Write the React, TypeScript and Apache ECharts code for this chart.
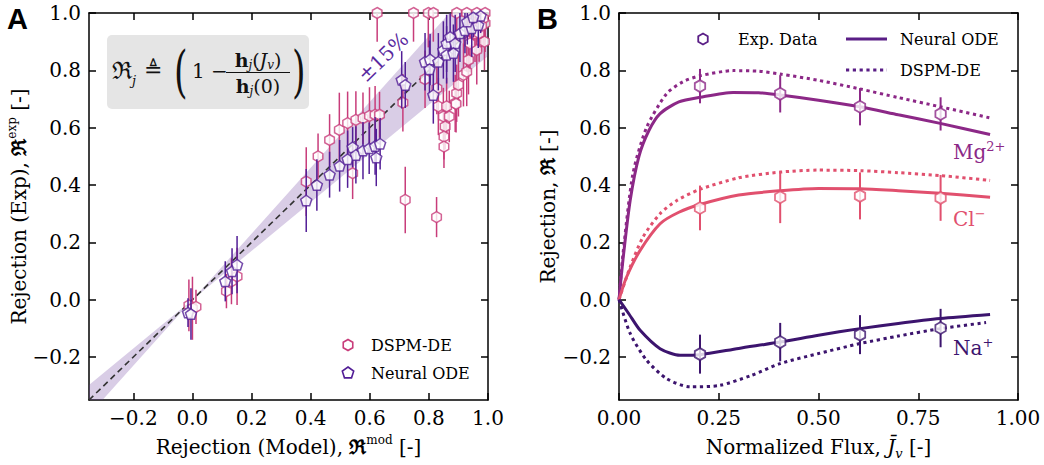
import React, { useEffect, useRef } from 'react';
import * as echarts from 'echarts';

// ---------------- Panel A data: [model, experiment, error] ----------------
const dspmPoints: number[][] = [
  [-0.012, -0.02, 0.09], [0.0, -0.03, 0.11], [0.012, -0.025, 0.06],
  [0.115, 0.03, 0.06], [0.132, 0.064, 0.08], [0.151, 0.081, 0.1],
  [0.385, 0.412, 0.12], [0.425, 0.5, 0.08], [0.464, 0.557, 0.09], [0.497, 0.592, 0.13],
  [0.525, 0.616, 0.11], [0.553, 0.627, 0.1], [0.577, 0.633, 0.09], [0.599, 0.641, 0.1],
  [0.618, 0.645, 0.1], [0.633, 0.645, 0.08], [0.542, 0.441, 0.09],
  [0.712, 0.687, 0.1], [0.72, 0.348, 0.116], [0.826, 0.288, 0.07],
  [0.625, 1.0, 0.1], [0.748, 1.0, 0.1], [0.798, 1.0, 0.12], [0.815, 1.0, 0.1],
  [0.894, 1.0, 0.1], [0.928, 1.0, 0.1], [0.962, 1.0, 0.1], [0.99, 1.0, 0.1],
  [0.99, 0.964, 0.1], [0.988, 0.9, 0.1], [0.962, 0.871, 0.12], [0.934, 0.9, 0.12],
  [0.787, 0.769, 0.1], [0.827, 0.737, 0.09], [0.832, 0.674, 0.1], [0.849, 0.639, 0.1],
  [0.855, 0.604, 0.08], [0.851, 0.569, 0.08], [0.851, 0.534, 0.075],
  [0.889, 0.685, 0.1], [0.894, 0.72, 0.1], [0.9, 0.749, 0.11], [0.917, 0.784, 0.11],
  [0.928, 0.795, 0.12], [0.934, 0.836, 0.12], [0.939, 0.894, 0.1], [0.956, 0.929, 0.1],
  [0.984, 0.981, 0.1], [0.86, 0.674, 0.1], [0.869, 0.639, 0.09], [0.892, 0.683, 0.1],
  [0.97, 0.93, 0.1], [0.978, 0.955, 0.09],
];
const nodePoints: number[][] = [
  [-0.015, -0.045, 0.05], [-0.005, -0.05, 0.09],
  [0.111, 0.064, 0.07], [0.134, 0.099, 0.08], [0.151, 0.122, 0.1],
  [0.385, 0.346, 0.11], [0.421, 0.4, 0.09], [0.464, 0.436, 0.08], [0.498, 0.467, 0.09],
  [0.525, 0.49, 0.1], [0.542, 0.532, 0.07], [0.553, 0.505, 0.1], [0.577, 0.52, 0.1],
  [0.598, 0.528, 0.09], [0.618, 0.536, 0.1], [0.635, 0.544, 0.09], [0.622, 0.496, 0.1],
  [0.708, 0.767, 0.1], [0.72, 0.749, 0.08], [0.787, 0.83, 0.1], [0.804, 0.838, 0.09],
  [0.802, 0.804, 0.1], [0.815, 0.714, 0.1], [0.832, 0.83, 0.1], [0.849, 0.871, 0.1],
  [0.86, 0.894, 0.1], [0.872, 0.917, 0.08], [0.889, 0.894, 0.1], [0.905, 0.929, 0.1],
  [0.922, 0.94, 0.08], [0.945, 0.947, 0.1], [0.967, 0.958, 0.08], [0.86, 0.854, 0.1],
  [0.883, 0.86, 0.1], [0.93, 0.97, 0.08], [0.975, 0.99, 0.06], [0.95, 0.985, 0.07],
];
const parityRange = [-0.35, 1.0];
const bandTolerance = 0.15;
const ticksA = [-0.2, 0, 0.2, 0.4, 0.6, 0.8, 1.0];

// ---------------- Panel B data ----------------
const fluxExp = [0.203, 0.404, 0.604, 0.806];
const mgExp = [0.745, 0.718, 0.673, 0.648];
const mgExpErr = [0.06, 0.065, 0.065, 0.058];
const clExp = [0.32, 0.357, 0.362, 0.355];
const clExpErr = [0.078, 0.09, 0.082, 0.08];
const naExp = [-0.19, -0.148, -0.122, -0.099];
const naExpErr = [0.068, 0.067, 0.068, 0.067];

const mgNode = [[0, 0], [0.01, 0.14], [0.028, 0.346], [0.05, 0.5], [0.075, 0.59], [0.103, 0.649], [0.15, 0.69], [0.203, 0.706], [0.286, 0.723], [0.35, 0.722], [0.404, 0.714], [0.5, 0.696], [0.604, 0.673], [0.7, 0.645], [0.805, 0.615], [0.93, 0.576]];
const mgDspm = [[0, 0], [0.01, 0.16], [0.035, 0.44], [0.069, 0.6], [0.119, 0.718], [0.16, 0.76], [0.203, 0.781], [0.286, 0.799], [0.35, 0.797], [0.404, 0.787], [0.5, 0.765], [0.604, 0.735], [0.7, 0.705], [0.805, 0.673], [0.93, 0.634]];
const clNode = [[0, 0], [0.019, 0.079], [0.053, 0.172], [0.103, 0.265], [0.15, 0.305], [0.203, 0.332], [0.3, 0.365], [0.404, 0.38], [0.5, 0.388], [0.604, 0.387], [0.7, 0.38], [0.805, 0.371], [0.93, 0.357]];
const clDspm = [[0, 0], [0.028, 0.114], [0.06, 0.218], [0.103, 0.3], [0.145, 0.346], [0.203, 0.385], [0.3, 0.425], [0.404, 0.445], [0.5, 0.452], [0.604, 0.45], [0.7, 0.443], [0.805, 0.433], [0.93, 0.416]];
const naNode = [[0, 0], [0.025, -0.05], [0.053, -0.107], [0.103, -0.171], [0.153, -0.194], [0.203, -0.192], [0.3, -0.17], [0.404, -0.148], [0.5, -0.124], [0.604, -0.101], [0.7, -0.083], [0.805, -0.066], [0.93, -0.052]];
const naDspm = [[0, 0], [0.028, -0.118], [0.069, -0.211], [0.119, -0.275], [0.178, -0.304], [0.253, -0.299], [0.33, -0.265], [0.404, -0.223], [0.5, -0.188], [0.604, -0.153], [0.7, -0.127], [0.805, -0.101], [0.92, -0.08]];
const ticksBx = [0, 0.25, 0.5, 0.75, 1.0];
const ticksBy = [-0.2, 0, 0.2, 0.4, 0.6, 0.8, 1.0];

// ---------------- styling ----------------
const FONT = "'DejaVu Serif', serif";
const PINK = '#c83c7a';
const PURPLE = '#521e96';
const MG = '#8c2887';
const CL = '#e1506e';
const NA = '#3c146e';
const LEG = '#5a1e86';
const HEX = 'path://M0,-1L0.866,-0.5L0.866,0.5L0,1L-0.866,0.5L-0.866,-0.5Z';
const PENT = 'path://M0,-1L0.951,-0.309L0.588,0.809L-0.588,0.809L-0.951,-0.309Z';

const fmt1 = (v: number) => (v < -1e-9 ? '\u2212' : '') + Math.abs(v).toFixed(1);
const fmt2 = (v: number) => Math.abs(v).toFixed(2);

const nameRich = {
  t: { fontSize: 20, fontFamily: FONT, color: '#000', lineHeight: 26 },
  r: { fontSize: 20, fontFamily: FONT, color: '#000', fontWeight: 'bold', lineHeight: 26 },
  sup: { fontSize: 12, fontFamily: FONT, color: '#000', verticalAlign: 'top', lineHeight: 14 },
  it: { fontSize: 20, fontFamily: FONT, color: '#000', fontStyle: 'italic', lineHeight: 26 },
  sub: { fontSize: 13, fontFamily: FONT, color: '#000', fontStyle: 'italic', verticalAlign: 'bottom', lineHeight: 16 },
};

function mkAxis(kind: 'x' | 'y', grid: number, min: number, max: number, ticks: number[], labels: boolean, fmt: (v: number) => string, position: string, name?: string, nameGap?: number): any {
  return {
    type: 'value', gridIndex: grid, min, max, position,
    axisLine: { show: true, onZero: false, lineStyle: { color: '#000', width: 1.5 } },
    axisTick: { show: true, inside: true, length: 7, customValues: ticks, lineStyle: { color: '#000', width: 1.5 } },
    axisLabel: { show: labels, customValues: ticks, formatter: fmt, color: '#000', fontFamily: FONT, fontSize: 20, margin: 8 },
    splitLine: { show: false },
    name: name || '',
    nameLocation: 'middle',
    nameGap: nameGap || 0,
    nameTextStyle: { fontFamily: FONT, fontSize: 20, color: '#000', rich: nameRich },
  };
}

function errorSeries(data: number[][], color: string, xi: number, yi: number, width: number, z: number): any {
  return {
    type: 'custom', xAxisIndex: xi, yAxisIndex: yi, clip: true, z, silent: true,
    data,
    encode: { x: 0, y: 1 },
    renderItem: (params: any, api: any) => {
      const x = api.value(0), y = api.value(1), e = api.value(2);
      const p1 = api.coord([x, y + e]);
      const p2 = api.coord([x, y - e]);
      return { type: 'line', shape: { x1: p1[0], y1: p1[1], x2: p2[0], y2: p2[1] }, style: { stroke: color, lineWidth: width } };
    },
  };
}

function polyPoints(cx: number, cy: number, r: number, n: number): number[][] {
  const pts: number[][] = [];
  for (let i = 0; i < n; i++) {
    const a = -Math.PI / 2 + (i * 2 * Math.PI) / n;
    pts.push([cx + r * Math.cos(a), cy + r * Math.sin(a)]);
  }
  return pts;
}

function buildOption(): any {
  const lo = parityRange[0], hi = parityRange[1];
  const up = 1 + bandTolerance, dn = 1 - bandTolerance;
  const bandVerts = [
    [lo, lo * dn], [0, 0], [hi / up, hi], [hi, hi], [hi, hi * dn], [0, 0], [lo / up, lo], [lo, lo],
  ];

  const expTriples = (ys: number[], es: number[]) => fluxExp.map((x, i) => [x, ys[i], es[i]]);

  const lineB = (data: number[][], color: string, dotted: boolean, name: string) => ({
    type: 'line', name, xAxisIndex: 2, yAxisIndex: 2, data, smooth: 0.25, symbol: 'none', z: 3, silent: true,
    lineStyle: { color, width: 3, type: dotted ? [3.2, 3.6] : 'solid', cap: 'butt' },
  });
  const scatterB = (ys: number[], color: string, name: string) => ({
    type: 'scatter', name, xAxisIndex: 2, yAxisIndex: 2, data: fluxExp.map((x, i) => [x, ys[i]]),
    symbol: HEX, symbolSize: 12, symbolKeepAspect: true, z: 6, silent: true,
    itemStyle: { color: '#fff', borderColor: color, borderWidth: 1.8 },
  });

  const graphic: any[] = [
    { type: 'text', x: 7, y: 4, style: { text: 'A', font: "bold 29px 'Liberation Sans', Arial, sans-serif", fill: '#000' } },
    { type: 'text', x: 537, y: 4, style: { text: 'B', font: "bold 29px 'Liberation Sans', Arial, sans-serif", fill: '#000' } },
    // formula box
    { type: 'rect', shape: { x: 107, y: 35, width: 202, height: 74, r: 5 }, style: { fill: '#e5e5e5' }, z: 10 },
    { type: 'text', x: 112, y: 71, z: 11, style: { text: '\u211C', font: `24px ${FONT}`, fill: '#111', verticalAlign: 'middle' } },
    { type: 'text', x: 132, y: 80, z: 11, style: { text: 'j', font: `italic 13px ${FONT}`, fill: '#111', verticalAlign: 'middle' } },
    { type: 'text', x: 144, y: 69, z: 11, style: { text: '\u225C', font: `22px ${FONT}`, fill: '#111', verticalAlign: 'middle' } },
    { type: 'text', x: 174, y: 72, z: 11, scaleX: 0.62, style: { text: '(', font: `56px ${FONT}`, fill: '#111', verticalAlign: 'middle' } },
    { type: 'text', x: 192, y: 71, z: 11, style: { text: '1 \u2212', font: `20px ${FONT}`, fill: '#111', verticalAlign: 'middle' } },
    {
      type: 'text', x: 258, y: 60, z: 11,
      style: {
        text: '{b|h}{s|j}{n|(}{i|J}{s|v}{n|)}', align: 'center', verticalAlign: 'middle', fill: '#111',
        rich: {
          b: { font: `bold 19px ${FONT}`, lineHeight: 22, fill: '#111' },
          n: { font: `19px ${FONT}`, lineHeight: 22, fill: '#111' },
          i: { font: `italic 19px ${FONT}`, lineHeight: 22, fill: '#111' },
          s: { font: `italic 12px ${FONT}`, lineHeight: 13, verticalAlign: 'bottom', fill: '#111' },
        },
      },
    },
    { type: 'line', z: 11, shape: { x1: 226, y1: 72.5, x2: 290, y2: 72.5 }, style: { stroke: '#111', lineWidth: 1.2 } },
    {
      type: 'text', x: 258, y: 86, z: 11,
      style: {
        text: '{b|h}{s|j}{n|(0)}', align: 'center', verticalAlign: 'middle', fill: '#111',
        rich: {
          b: { font: `bold 19px ${FONT}`, lineHeight: 22, fill: '#111' },
          n: { font: `19px ${FONT}`, lineHeight: 22, fill: '#111' },
          s: { font: `italic 12px ${FONT}`, lineHeight: 13, verticalAlign: 'bottom', fill: '#111' },
        },
      },
    },
    { type: 'text', x: 292, y: 72, z: 11, scaleX: 0.62, style: { text: ')', font: `56px ${FONT}`, fill: '#111', verticalAlign: 'middle' } },
    // ±15%
    { type: 'text', x: 383, y: 57, rotation: (44 * Math.PI) / 180, z: 11, style: { text: '\u00B115%', font: `20px ${FONT}`, fill: '#5a2aa0', align: 'center', verticalAlign: 'middle' } },
    // legend A
    { type: 'polygon', z: 11, shape: { points: polyPoints(348, 345, 5.5, 6) }, style: { fill: '#fff', stroke: PINK, lineWidth: 1.6 } },
    { type: 'text', x: 371, y: 345, z: 11, style: { text: 'DSPM-DE', font: `16px ${FONT}`, fill: '#000', verticalAlign: 'middle' } },
    { type: 'polygon', z: 11, shape: { points: polyPoints(348, 373, 6, 5) }, style: { fill: '#fff', stroke: PURPLE, lineWidth: 1.6 } },
    { type: 'text', x: 371, y: 373, z: 11, style: { text: 'Neural ODE', font: `16px ${FONT}`, fill: '#000', verticalAlign: 'middle' } },
    // legend B
    { type: 'polygon', z: 11, shape: { points: polyPoints(703, 39, 5.5, 6) }, style: { fill: '#fff', stroke: LEG, lineWidth: 1.8 } },
    { type: 'text', x: 738, y: 39, z: 11, style: { text: 'Exp. Data', font: `16px ${FONT}`, fill: '#000', verticalAlign: 'middle' } },
    { type: 'line', z: 11, shape: { x1: 846, y1: 39, x2: 887, y2: 39 }, style: { stroke: LEG, lineWidth: 3 } },
    { type: 'text', x: 900, y: 39, z: 11, style: { text: 'Neural ODE', font: `16px ${FONT}`, fill: '#000', verticalAlign: 'middle' } },
    { type: 'line', z: 11, shape: { x1: 846, y1: 70, x2: 887, y2: 70 }, style: { stroke: LEG, lineWidth: 3, lineDash: [3.2, 3.6] } },
    { type: 'text', x: 900, y: 70, z: 11, style: { text: 'DSPM-DE', font: `16px ${FONT}`, fill: '#000', verticalAlign: 'middle' } },
    // ion labels
    {
      type: 'text', x: 953, y: 152, z: 11,
      style: { text: '{m|Mg}{s|2+}', verticalAlign: 'middle', rich: { m: { font: `20px ${FONT}`, fill: MG, lineHeight: 24 }, s: { font: `13px ${FONT}`, fill: MG, verticalAlign: 'top', lineHeight: 14 } } },
    },
    {
      type: 'text', x: 953, y: 219, z: 11,
      style: { text: '{m|Cl}{s|\u2212}', verticalAlign: 'middle', rich: { m: { font: `20px ${FONT}`, fill: CL, lineHeight: 24 }, s: { font: `13px ${FONT}`, fill: CL, verticalAlign: 'top', lineHeight: 14 } } },
    },
    {
      type: 'text', x: 953, y: 348, z: 11,
      style: { text: '{m|Na}{s|+}', verticalAlign: 'middle', rich: { m: { font: `20px ${FONT}`, fill: NA, lineHeight: 24 }, s: { font: `13px ${FONT}`, fill: NA, verticalAlign: 'top', lineHeight: 14 } } },
    },
  ];

  return {
    animation: false,
    backgroundColor: '#fff',
    grid: [
      { left: 89, top: 13, width: 399, height: 387 },
      { left: 619, top: 13, width: 399, height: 387 },
    ],
    xAxis: [
      mkAxis('x', 0, -0.35, 1.0, ticksA, true, fmt1, 'bottom', '{t|Rejection (Model), }{r|\u211C}{sup|mod}{t| [-]}', 34),
      mkAxis('x', 0, -0.35, 1.0, ticksA, false, fmt1, 'top'),
      mkAxis('x', 1, 0, 1.0, ticksBx, true, fmt2, 'bottom', '{t|Normalized Flux, }{it|J\u0304}{sub|v}{t| [-]}', 34),
      mkAxis('x', 1, 0, 1.0, ticksBx, false, fmt2, 'top'),
    ],
    yAxis: [
      mkAxis('y', 0, -0.35, 1.0, ticksA, true, fmt1, 'left', '{t|Rejection (Exp), }{r|\u211C}{sup|exp}{t| [-]}', 56),
      mkAxis('y', 0, -0.35, 1.0, ticksA, false, fmt1, 'right'),
      mkAxis('y', 1, -0.35, 1.0, ticksBy, true, fmt1, 'left', '{t|Rejection, }{r|\u211C}{t| [-]}', 58),
      mkAxis('y', 1, -0.35, 1.0, ticksBy, false, fmt1, 'right'),
    ],
    graphic,
    series: [
      {
        type: 'custom', name: 'band', xAxisIndex: 0, yAxisIndex: 0, clip: true, z: 1, silent: true,
        data: [[0, 0]],
        renderItem: (params: any, api: any) => ({
          type: 'polygon',
          shape: { points: bandVerts.map((v) => api.coord(v)) },
          style: { fill: 'rgba(110,60,160,0.26)' },
        }),
      },
      {
        type: 'line', name: 'parity', xAxisIndex: 0, yAxisIndex: 0, z: 2, silent: true, symbol: 'none',
        data: [[lo, lo], [hi, hi]],
        lineStyle: { color: '#333', width: 1.6, type: [6, 4] },
      },
      errorSeries(dspmPoints, PINK, 0, 0, 1.5, 3),
      {
        type: 'scatter', name: 'DSPM-DE', xAxisIndex: 0, yAxisIndex: 0, z: 4, silent: true,
        data: dspmPoints.map((p) => [p[0], p[1]]),
        symbol: HEX, symbolSize: 11, symbolKeepAspect: true,
        itemStyle: { color: '#fff', borderColor: PINK, borderWidth: 1.5 },
      },
      errorSeries(nodePoints, PURPLE, 0, 0, 1.5, 5),
      {
        type: 'scatter', name: 'Neural ODE', xAxisIndex: 0, yAxisIndex: 0, z: 6, silent: true,
        data: nodePoints.map((p) => [p[0], p[1]]),
        symbol: PENT, symbolSize: 11, symbolKeepAspect: true,
        itemStyle: { color: '#fff', borderColor: PURPLE, borderWidth: 1.5 },
      },
      // Panel B
      lineB(mgDspm, MG, true, 'Mg DSPM-DE'),
      lineB(clDspm, CL, true, 'Cl DSPM-DE'),
      lineB(naDspm, NA, true, 'Na DSPM-DE'),
      lineB(mgNode, MG, false, 'Mg Neural ODE'),
      lineB(clNode, CL, false, 'Cl Neural ODE'),
      lineB(naNode, NA, false, 'Na Neural ODE'),
      errorSeries(expTriples(mgExp, mgExpErr), MG, 2, 2, 2, 5),
      errorSeries(expTriples(clExp, clExpErr), CL, 2, 2, 2, 5),
      errorSeries(expTriples(naExp, naExpErr), NA, 2, 2, 2, 5),
      scatterB(mgExp, MG, 'Mg Exp. Data'),
      scatterB(clExp, CL, 'Cl Exp. Data'),
      scatterB(naExp, NA, 'Na Exp. Data'),
    ],
  };
}

export default function App() {
  const ref = useRef<HTMLDivElement>(null);
  useEffect(() => {
    if (!ref.current) return;
    const chart = echarts.init(ref.current, null, { renderer: 'svg' });
    chart.setOption(buildOption());
    return () => chart.dispose();
  }, []);
  return <div ref={ref} style={{ position: 'fixed', left: 0, top: 0, width: 1044, height: 465, background: '#fff' }} />;
}
